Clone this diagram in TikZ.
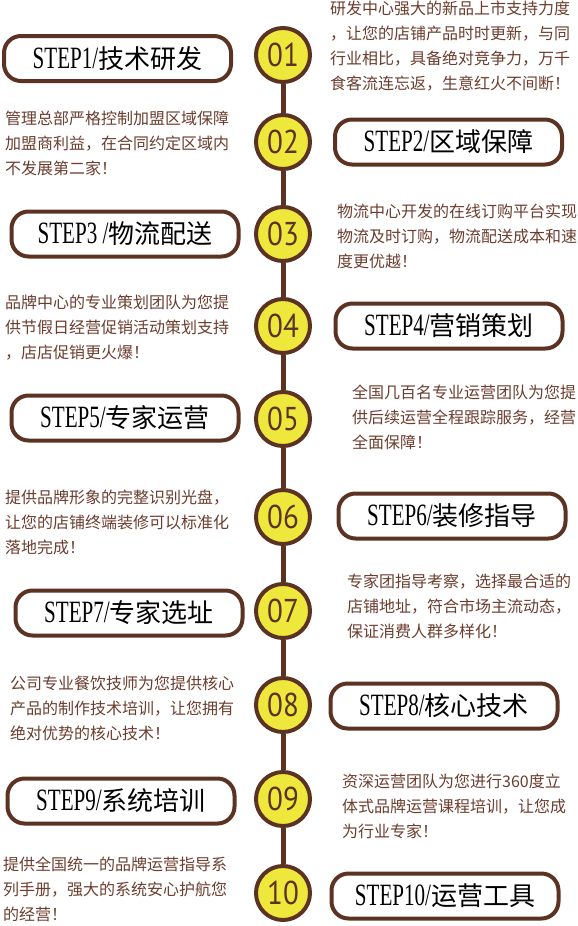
\documentclass[tikz,border=0pt]{standalone}
\usepackage{fontspec}
\newfontfamily\cjk{Noto Sans CJK SC}
\newfontfamily\latserif[FakeStretch=0.68]{Liberation Serif}
\newfontfamily\numfont[FakeStretch=0.88]{PT Sans}
\definecolor{brn}{HTML}{5C3222}
\definecolor{txtbrn}{HTML}{6B3D2E}
\definecolor{yel}{HTML}{EEE83C}
\tikzset{
  stepbox/.style={draw=brn, line width=4pt, fill=white, rounded corners=17pt,
    minimum width=227pt, minimum height=45pt, inner sep=0pt, text=black},
  numcirc/.style={circle, draw=brn, line width=4pt, fill=yel, minimum size=54pt,
    inner sep=0pt, font=\numfont\fontsize{33}{33}\selectfont, text=brn},
  desc/.style={align=left, inner sep=0pt, anchor=west, text=txtbrn,
    font=\cjk\fontsize{16}{25}\selectfont},
  stem/.style={draw=brn, line width=5pt},
}
\newcommand\steplabel[2]{{\latserif\fontsize{31}{31}\selectfont #1}{\cjk\fontsize{26}{26}\selectfont #2}}
\begin{document}
\begin{tikzpicture}[x=1pt, y=-1pt]
\useasboundingbox (0,0) rectangle (578,926);

% circles
\node[numcirc] (c1) at (283,55) {01};
\node[numcirc] (c2) at (283,142) {02};
\node[numcirc] (c3) at (283,234) {03};
\node[numcirc] (c4) at (283,326) {04};
\node[numcirc] (c5) at (283,419) {05};
\node[numcirc] (c6) at (283,517) {06};
\node[numcirc] (c7) at (283,611) {07};
\node[numcirc] (c8) at (283,705) {08};
\node[numcirc] (c9) at (283,799) {09};
\node[numcirc] (c10) at (283,893) {10};

\draw[stem] (c1) -- (c2);
\draw[stem] (c2) -- (c3);
\draw[stem] (c3) -- (c4);
\draw[stem] (c4) -- (c5);
\draw[stem] (c5) -- (c6);
\draw[stem] (c6) -- (c7);
\draw[stem] (c7) -- (c8);
\draw[stem] (c8) -- (c9);
\draw[stem] (c9) -- (c10);

% step boxes
\node[stepbox] (s1) at (117.5,58.5) {\steplabel{STEP1/}{技术研发}};
\node[stepbox] (s2) at (448.5,142) {\steplabel{STEP2/}{区域保障}};
\node[stepbox] (s3) at (125,234) {\steplabel{STEP3 /}{物流配送}};
\node[stepbox] (s4) at (449,326) {\steplabel{STEP4/}{营销策划}};
\node[stepbox] (s5) at (125,418) {\steplabel{STEP5/}{专家运营}};
\node[stepbox] (s6) at (452,516) {\steplabel{STEP6/}{装修指导}};
\node[stepbox] (s7) at (129,613) {\steplabel{STEP7/}{专家选址}};
\node[stepbox] (s8) at (444,706) {\steplabel{STEP8/}{核心技术}};
\node[stepbox] (s9) at (121,801) {\steplabel{STEP9/}{系统培训}};
\node[stepbox] (s10) at (445,896) {\steplabel{STEP10/}{运营工具}};

% descriptions
\node[desc] (d1) at (330,46.5) {研发中心强大的新品上市支持力度\\，让您的店铺产品时时更新，与同\\行业相比，具备绝对竞争力，万千\\食客流连忘返，生意红火不间断！};
\node[desc] (d2) at (5,143) {管理总部严格控制加盟区域保障\\加盟商利益，在合同约定区域内\\不发展第二家！};
\node[desc] (d3) at (337,236) {物流中心开发的在线订购平台实现\\物流及时订购，物流配送成本和速\\度更优越！};
\node[desc] (d4) at (5,328) {品牌中心的专业策划团队为您提\\供节假日经营促销活动策划支持\\，店店促销更火爆！};
\node[desc] (d5) at (352,417) {全国几百名专业运营团队为您提\\供后续运营全程跟踪服务，经营\\全面保障！};
\node[desc] (d6) at (5,522) {提供品牌形象的完整识别光盘，\\让您的店铺终端装修可以标准化\\落地完成！};
\node[desc] (d7) at (347,606) {专家团指导考察，选择最合适的\\店铺地址，符合市场主流动态，\\保证消费人群多样化！};
\node[desc] (d8) at (10,708) {公司专业餐饮技师为您提供核心\\产品的制作技术培训，让您拥有\\绝对优势的核心技术！};
\node[desc] (d9) at (342,806) {资深运营团队为您进行360度立\\体式品牌运营课程培训，让您成\\为行业专家！};
\node[desc] (d10) at (3,889) {提供全国统一的品牌运营指导系\\列手册，强大的系统安心护航您\\的经营！};
\end{tikzpicture}
\end{document}
